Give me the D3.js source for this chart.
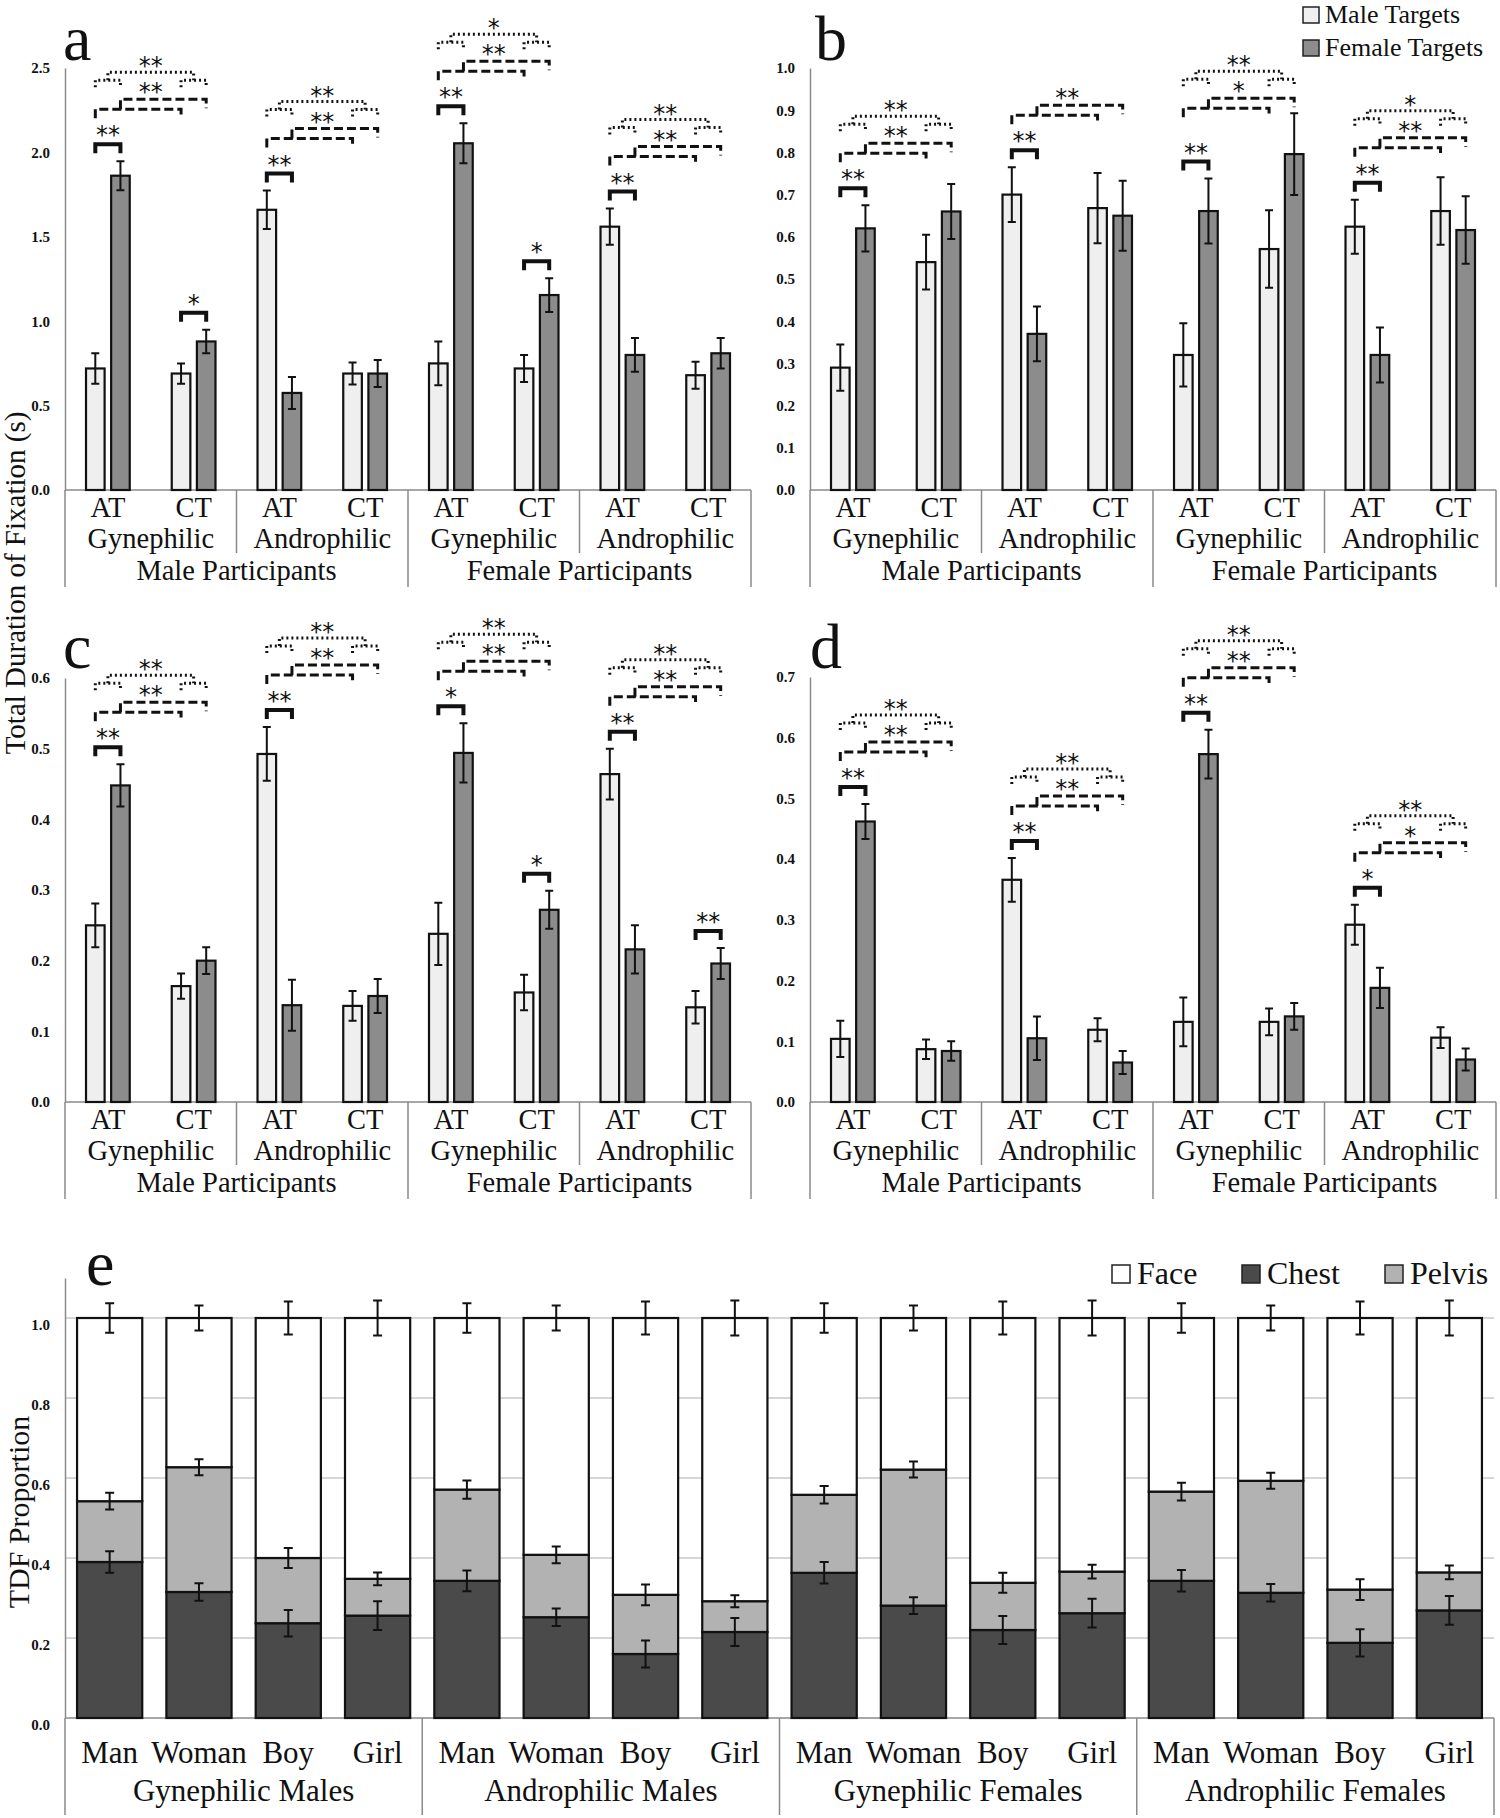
<!DOCTYPE html>
<html>
<head>
<meta charset="utf-8">
<script src="https://cdn.jsdelivr.net/npm/d3@7"></script>
<style>
body { margin: 0; background: #fff; }
text { font-family: "Liberation Serif", "Times New Roman", serif; fill: #111; }
</style>
</head>
<body>
<div id="chart"></div>
<script>
const w = 1500;
const h = 1818;

// categories
const participants = ["Male Participants", "Female Participants"];
const orientations = ["Gynephilic", "Androphilic"];
const stimTypes = ["AT", "CT"];
const targets = ["Male Targets", "Female Targets"];

// panel a
const aTicks = [0, 0.5, 1.0, 1.5, 2.0, 2.5];
const aMale = [0.72, 0.69, 1.66, 0.69, 0.75, 0.72, 1.56, 0.68];
const aMaleErr = [0.09, 0.06, 0.114, 0.065, 0.13, 0.08, 0.107, 0.08];
const aFemale = [1.862, 0.88, 0.575, 0.69, 2.054, 1.155, 0.80, 0.81];
const aFemaleErr = [0.086, 0.07, 0.095, 0.08, 0.118, 0.10, 0.10, 0.09];
const aSigAT = ["**", "**", "**", "**"];
const aSigDashed = ["**", "**", "**", "**"];
const aSigDotted = ["**", "**", "*", "**"];
const aSigCT = ["*", "", "*", ""];

// panel b
const bTicks = [0, 0.1, 0.2, 0.3, 0.4, 0.5, 0.6, 0.7, 0.8, 0.9, 1.0];
const bMale = [0.29, 0.54, 0.70, 0.668, 0.32, 0.571, 0.624, 0.661];
const bMaleErr = [0.055, 0.065, 0.065, 0.083, 0.075, 0.092, 0.064, 0.08];
const bFemale = [0.62, 0.66, 0.37, 0.65, 0.661, 0.796, 0.32, 0.616];
const bFemaleErr = [0.055, 0.065, 0.065, 0.083, 0.077, 0.097, 0.065, 0.08];
const bSigAT = ["**", "**", "**", "**"];
const bSigDashed = ["**", "**", "*", "**"];
const bSigDotted = ["**", "", "**", "*"];
const bSigCT = ["", "", "", ""];

// panel c
const cTicks = [0, 0.1, 0.2, 0.3, 0.4, 0.5, 0.6];
const cMale = [0.25, 0.164, 0.4925, 0.136, 0.238, 0.155, 0.464, 0.134];
const cMaleErr = [0.031, 0.018, 0.038, 0.021, 0.044, 0.025, 0.036, 0.023];
const cFemale = [0.448, 0.2, 0.137, 0.15, 0.494, 0.272, 0.216, 0.196];
const cFemaleErr = [0.03, 0.019, 0.036, 0.024, 0.042, 0.027, 0.034, 0.022];
const cSigAT = ["**", "**", "*", "**"];
const cSigDashed = ["**", "**", "**", "**"];
const cSigDotted = ["**", "**", "**", "**"];
const cSigCT = ["", "", "*", "**"];

// panel d
const dTicks = [0, 0.1, 0.2, 0.3, 0.4, 0.5, 0.6, 0.7];
const dMale = [0.104, 0.087, 0.366, 0.119, 0.132, 0.132, 0.292, 0.106];
const dMaleErr = [0.03, 0.016, 0.036, 0.019, 0.04, 0.022, 0.033, 0.017];
const dFemale = [0.462, 0.084, 0.105, 0.065, 0.573, 0.141, 0.188, 0.07];
const dFemaleErr = [0.029, 0.016, 0.036, 0.019, 0.04, 0.022, 0.033, 0.018];
const dSigAT = ["**", "**", "**", "*"];
const dSigDashed = ["**", "**", "**", "*"];
const dSigDotted = ["**", "**", "**", "**"];
const dSigCT = ["", "", "", ""];

// panel e
const eGroups = ["Gynephilic Males", "Androphilic Males", "Gynephilic Females", "Androphilic Females"];
const eTargets = ["Man", "Woman", "Boy", "Girl"];
const eRegions = ["Chest", "Pelvis", "Face"];
const eTicks = [0, 0.2, 0.4, 0.6, 0.8, 1.0];
const eChest = [0.39, 0.315, 0.237, 0.256, 0.343, 0.252, 0.16, 0.215, 0.363, 0.281, 0.22, 0.262, 0.343, 0.313, 0.188, 0.269];
const ePelvis = [0.152, 0.312, 0.163, 0.092, 0.228, 0.156, 0.148, 0.077, 0.195, 0.34, 0.118, 0.104, 0.223, 0.28, 0.133, 0.095];
const eFace = [0.458, 0.373, 0.6, 0.652, 0.429, 0.592, 0.692, 0.708, 0.442, 0.379, 0.662, 0.634, 0.434, 0.407, 0.679, 0.636];
const eChestErr = [0.027, 0.022, 0.033, 0.036, 0.026, 0.022, 0.034, 0.035, 0.027, 0.021, 0.035, 0.036, 0.027, 0.022, 0.034, 0.036];
const ePelvisErr = [0.021, 0.02, 0.025, 0.016, 0.023, 0.021, 0.026, 0.015, 0.022, 0.02, 0.025, 0.017, 0.022, 0.02, 0.026, 0.017];
const eFaceErr = [0.037, 0.031, 0.041, 0.044, 0.037, 0.031, 0.041, 0.044, 0.037, 0.031, 0.041, 0.044, 0.037, 0.031, 0.041, 0.044];

const targetColor = { "Male Targets": "#efefef", "Female Targets": "#8c8c8c" };
const regionColor = { Chest: "#4a4a4a", Pelvis: "#b2b2b2", Face: "#ffffff" };
const axisColor = "#8a8a8a";
const serif = '"Liberation Serif", "Times New Roman", serif';

const clusterIds = [];
participants.forEach((p) => orientations.forEach((o) => stimTypes.forEach((s) => clusterIds.push(p + "|" + o + "|" + s))));

const svg = d3
	.select("#chart")
	.append("svg")
	.attr("width", w)
	.attr("height", h)
	.style("display", "block");

function errBar(g, cx, yHi, yLo, cap) {
	g.append("path")
		.attr("d", `M${cx - cap / 2},${yHi}H${cx + cap / 2}M${cx},${yHi}V${yLo}M${cx - cap / 2},${yLo}H${cx + cap / 2}`)
		.attr("stroke", "#111")
		.attr("stroke-width", 2)
		.attr("fill", "none");
}

function stars(g, cx, cy, label) {
	if (!label) return;
	g.append("text")
		.attr("x", cx)
		.attr("y", cy + 11)
		.attr("text-anchor", "middle")
		.style("font-family", '"DejaVu Sans", sans-serif')
		.style("font-size", "24px")
		.text(label);
}

function styleAxis(axisG) {
	axisG.attr("font-family", serif);
	axisG.select(".domain").attr("stroke", axisColor).attr("stroke-width", 1.5);
	axisG.selectAll("text").style("font-size", "15px").style("font-weight", "bold");
}

function barPanel(opt) {
	const g = svg.append("g");
	const x = d3.scaleBand().domain(clusterIds).range([opt.x0, opt.x1]).paddingInner(0.49).paddingOuter(0.245);
	const xs = d3.scaleBand().domain(targets).range([0, x.bandwidth()]).paddingInner(0.26);
	const y = d3.scaleLinear().domain([0, opt.ticks[opt.ticks.length - 1]]).range([opt.y0, opt.yTop]);
	const slot = x.step();

	// y axis
	const yAxisG = g
		.append("g")
		.attr("transform", `translate(${opt.x0},0)`)
		.call(d3.axisLeft(y).tickValues(opt.ticks).tickSize(0).tickPadding(15).tickFormat(d3.format(".1f")));
	styleAxis(yAxisG);

	// x axis line and separators
	g.append("line")
		.attr("x1", opt.x0)
		.attr("x2", opt.x1)
		.attr("y1", opt.y0)
		.attr("y2", opt.y0)
		.attr("stroke", axisColor)
		.attr("stroke-width", 1.5);
	d3.range(0, 9, 2).forEach((k) => {
		const sx = opt.x0 + k * slot;
		g.append("line")
			.attr("x1", sx)
			.attr("x2", sx)
			.attr("y1", opt.y0)
			.attr("y2", opt.y0 + (k % 4 === 0 ? 97 : 63))
			.attr("stroke", axisColor)
			.attr("stroke-width", 1.5);
	});

	// x labels
	clusterIds.forEach((id) => {
		g.append("text")
			.attr("x", x(id) + x.bandwidth() / 2)
			.attr("y", opt.y0 + 27)
			.attr("text-anchor", "middle")
			.style("font-size", "28.5px")
			.text(id.split("|")[2]);
	});
	d3.range(4).forEach((k) => {
		g.append("text")
			.attr("x", opt.x0 + (k * 2 + 1) * slot)
			.attr("y", opt.y0 + 58)
			.attr("text-anchor", "middle")
			.style("font-size", "28.5px")
			.text(orientations[k % 2]);
	});
	participants.forEach((p, k) => {
		g.append("text")
			.attr("x", opt.x0 + (k * 4 + 2) * slot)
			.attr("y", opt.y0 + 90)
			.attr("text-anchor", "middle")
			.style("font-size", "28.5px")
			.text(p);
	});

	// bars
	const rows = clusterIds.map((id, i) => ({
		id: id,
		vals: [
			{ t: targets[0], v: opt.male[i], e: opt.maleErr[i] },
			{ t: targets[1], v: opt.female[i], e: opt.femaleErr[i] },
		],
	}));
	const cg = g
		.selectAll(".cluster")
		.data(rows)
		.join("g")
		.attr("class", "cluster")
		.attr("transform", (d) => `translate(${x(d.id)},0)`);
	cg.selectAll("rect")
		.data((d) => d.vals)
		.join("rect")
		.attr("x", (d) => xs(d.t))
		.attr("width", xs.bandwidth())
		.attr("y", (d) => y(d.v))
		.attr("height", (d) => opt.y0 - y(d.v))
		.attr("fill", (d) => targetColor[d.t])
		.attr("stroke", "#111")
		.attr("stroke-width", 2.2);
	cg.each(function (d) {
		const cgSel = d3.select(this);
		d.vals.forEach((v) => {
			errBar(cgSel, xs(v.t) + xs.bandwidth() / 2, y(v.v + v.e), y(v.v - v.e), 8);
		});
	});

	// significance annotations
	const cx = (i, t) => x(clusterIds[i]) + xs(t) + xs.bandwidth() / 2;
	const mTop = (i) => y(opt.male[i] + opt.maleErr[i]);
	const fTop = (i) => y(opt.female[i] + opt.femaleErr[i]);
	const ag = g.append("g").attr("fill", "none").attr("stroke", "#111");

	function solid(i, label) {
		if (!label) return;
		const mA = cx(i, targets[0]);
		const fA = cx(i, targets[1]);
		const top = Math.min(mTop(i), fTop(i)) - 17;
		ag.append("path").attr("d", `M${mA},${top + 9}V${top}H${fA}V${top + 9}`).attr("stroke-width", 4);
		stars(g, (mA + fA) / 2, top - 12, label);
		return top;
	}

	d3.range(4).forEach((k) => {
		const ia = 2 * k;
		const ic = 2 * k + 1;
		const mA = cx(ia, targets[0]);
		const fA = cx(ia, targets[1]);
		const mC = cx(ic, targets[0]);
		const fC = cx(ic, targets[1]);
		const top = solid(ia, opt.sigAT[k]);
		solid(ic, opt.sigCT[k]);
		const low = Math.min(top - 35, mTop(ic) - 15, fTop(ic) - 5);
		const up = low - 10;
		if (opt.sigDashed[k]) {
			ag.append("path")
				.attr("d", `M${mA},${low + 9}V${low}H${mC}V${low + 8}`)
				.attr("stroke-width", 3)
				.attr("stroke-dasharray", "9,4");
			ag.append("path")
				.attr("d", `M${fA},${low}V${up}H${fC}V${up + 9}`)
				.attr("stroke-width", 3)
				.attr("stroke-dasharray", "9,4");
			stars(g, (fA + mC) / 2, low - 20, opt.sigDashed[k]);
		}
		if (opt.sigDotted[k]) {
			const dl = low - 29;
			const dh = low - 37;
			const dot = (d) => ag.append("path").attr("d", d).attr("stroke-width", 3).attr("stroke-dasharray", "2,3");
			dot(`M${mA},${dl + 7}V${dl}H${fA}V${dl + 7}`);
			dot(`M${mC},${dl + 7}V${dl}H${fC}V${dl + 7}`);
			dot(`M${(mA + fA) / 2},${dl}V${dh}H${(mC + fC) / 2}V${dl}`);
			stars(g, (fA + mC) / 2, low - 46, opt.sigDotted[k]);
		}
	});

	// panel letter
	g.append("text")
		.attr("x", opt.lx)
		.attr("y", opt.ly)
		.style("font-size", "64px")
		.text(opt.letter);
}

barPanel({ x0: 65, x1: 751, y0: 490, yTop: 68, ticks: aTicks, male: aMale, maleErr: aMaleErr, female: aFemale, femaleErr: aFemaleErr,
	sigAT: aSigAT, sigDashed: aSigDashed, sigDotted: aSigDotted, sigCT: aSigCT, letter: "a", lx: 63, ly: 60 });
barPanel({ x0: 810, x1: 1496, y0: 490, yTop: 68, ticks: bTicks, male: bMale, maleErr: bMaleErr, female: bFemale, femaleErr: bFemaleErr,
	sigAT: bSigAT, sigDashed: bSigDashed, sigDotted: bSigDotted, sigCT: bSigCT, letter: "b", lx: 815, ly: 60 });
barPanel({ x0: 65, x1: 751, y0: 1102, yTop: 678, ticks: cTicks, male: cMale, maleErr: cMaleErr, female: cFemale, femaleErr: cFemaleErr,
	sigAT: cSigAT, sigDashed: cSigDashed, sigDotted: cSigDotted, sigCT: cSigCT, letter: "c", lx: 63, ly: 668 });
barPanel({ x0: 810, x1: 1496, y0: 1102, yTop: 677, ticks: dTicks, male: dMale, maleErr: dMaleErr, female: dFemale, femaleErr: dFemaleErr,
	sigAT: dSigAT, sigDashed: dSigDashed, sigDotted: dSigDotted, sigCT: dSigCT, letter: "d", lx: 810, ly: 668 });

// shared y title for a-d
svg.append("text")
	.attr("transform", "translate(25,583) rotate(-90)")
	.attr("text-anchor", "middle")
	.style("font-size", "29px")
	.text("Total Duration of Fixation (s)");

// legend a-d
targets.forEach((t, i) => {
	svg.append("rect")
		.attr("x", 1303)
		.attr("y", 7 + i * 33)
		.attr("width", 16)
		.attr("height", 16)
		.attr("fill", targetColor[t])
		.attr("stroke", "#222")
		.attr("stroke-width", 1.5);
	svg.append("text")
		.attr("x", 1325)
		.attr("y", 23 + i * 33)
		.style("font-size", "26px")
		.text(t);
});

// panel e
const eg = svg.append("g");
const eIds = [];
eGroups.forEach((gr) => eTargets.forEach((t) => eIds.push(gr + "|" + t)));
const eRows = eIds.map((id, i) => ({ id: id, Chest: eChest[i], Pelvis: ePelvis[i], Face: eFace[i], i: i }));
const eErr = { Chest: eChestErr, Pelvis: ePelvisErr, Face: eFaceErr };
const ex = d3.scaleBand().domain(eIds).range([65, 1494]).paddingInner(0.27).paddingOuter(0.135);
const ey = d3.scaleLinear().domain([0, 1.1]).range([1718, 1278]);
const eSlot = ex.step();

eTicks.slice(1).forEach((t) => {
	eg.append("line")
		.attr("x1", 65)
		.attr("x2", 1494)
		.attr("y1", ey(t))
		.attr("y2", ey(t))
		.attr("stroke", "#d6d6d6")
		.attr("stroke-width", 2);
});

const eAxisG = eg
	.append("g")
	.attr("transform", "translate(65,0)")
	.call(d3.axisLeft(ey).tickValues(eTicks).tickSize(0).tickPadding(15).tickFormat(d3.format(".1f")));
styleAxis(eAxisG);
eAxisG.selectAll("text").attr("dy", "0.75em");

eg.append("line").attr("x1", 65).attr("x2", 1494).attr("y1", 1718).attr("y2", 1718).attr("stroke", axisColor).attr("stroke-width", 1.5);
d3.range(0, 17, 4).forEach((k) => {
	eg.append("line")
		.attr("x1", 65 + k * eSlot)
		.attr("x2", 65 + k * eSlot)
		.attr("y1", 1718)
		.attr("y2", 1815)
		.attr("stroke", axisColor)
		.attr("stroke-width", 1.5);
});

const stack = d3.stack().keys(eRegions)(eRows);
eg.selectAll(".layer")
	.data(stack)
	.join("g")
	.attr("class", "layer")
	.attr("fill", (d) => regionColor[d.key])
	.selectAll("rect")
	.data((d) => d)
	.join("rect")
	.attr("x", (d) => ex(d.data.id))
	.attr("width", ex.bandwidth())
	.attr("y", (d) => ey(d[1]))
	.attr("height", (d) => ey(d[0]) - ey(d[1]))
	.attr("stroke", "#111")
	.attr("stroke-width", 2.2);

stack.forEach((layer) => {
	layer.forEach((d) => {
		const e = eErr[layer.key][d.data.i];
		errBar(eg, ex(d.data.id) + ex.bandwidth() / 2, ey(d[1] + e), ey(d[1] - e), 9);
	});
});

eIds.forEach((id) => {
	eg.append("text")
		.attr("x", ex(id) + ex.bandwidth() / 2)
		.attr("y", 1763)
		.attr("text-anchor", "middle")
		.style("font-size", "31px")
		.text(id.split("|")[1]);
});
eGroups.forEach((gr, k) => {
	eg.append("text")
		.attr("x", 65 + (k * 4 + 2) * eSlot)
		.attr("y", 1801)
		.attr("text-anchor", "middle")
		.style("font-size", "31px")
		.text(gr);
});

eg.append("text")
	.attr("transform", "translate(29,1512) rotate(-90)")
	.attr("text-anchor", "middle")
	.style("font-size", "30px")
	.text("TDF Proportion");

eg.append("text").attr("x", 86).attr("y", 1285).style("font-size", "64px").text("e");

// legend e
const eLegendX = [1112, 1242, 1385];
["Face", "Chest", "Pelvis"].forEach((r, i) => {
	eg.append("rect")
		.attr("x", eLegendX[i])
		.attr("y", 1265)
		.attr("width", 18)
		.attr("height", 18)
		.attr("fill", regionColor[r])
		.attr("stroke", "#222")
		.attr("stroke-width", 1.5);
	eg.append("text")
		.attr("x", eLegendX[i] + 25)
		.attr("y", 1284)
		.style("font-size", "32px")
		.text(r);
});
</script>
</body>
</html>
